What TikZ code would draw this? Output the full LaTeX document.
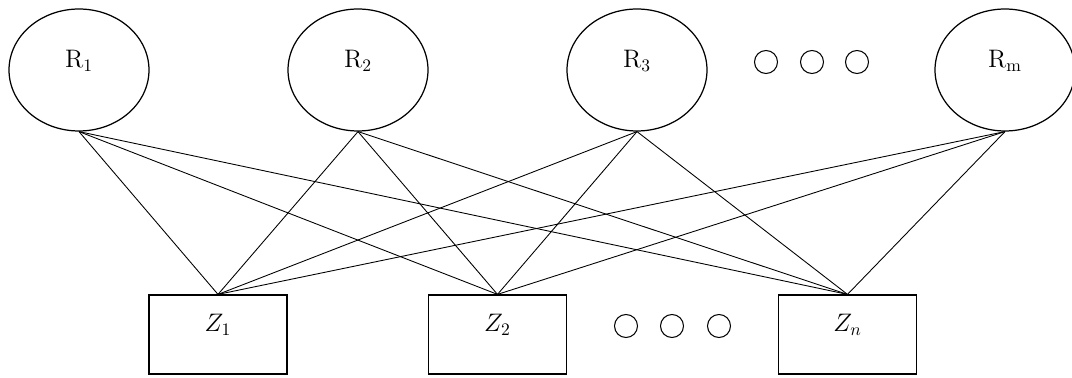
\documentclass[tikz,border=0pt]{standalone}
\usepackage{tikz}
\usetikzlibrary{shapes.geometric, positioning}
\tikzset{
  rnode/.style={draw, ellipse, line width=0.7pt, minimum width=2.8cm, minimum height=2.44cm, inner sep=0pt, text depth=0.45cm, font=\Large},
  znode/.style={draw, rectangle, line width=0.7pt, minimum width=2.76cm, minimum height=1.58cm, inner sep=0pt, text depth=0.45cm, font=\Large},
  dotnode/.style={draw, circle, line width=0.6pt, minimum width=0.46cm, minimum height=0.44cm, inner sep=0pt},
  link/.style={line width=0.5pt}
}
\begin{document}
\begin{tikzpicture}[x=0.02cm, y=-0.02cm]
  \useasboundingbox (0,0) rectangle (1072,378);

  % Top row
  \node[rnode] (r1) at (79, 70) {$\mathrm{R}_1$};
  \node[rnode] (r2) at (358, 70) {$\mathrm{R}_2$};
  \node[rnode] (r3) at (637, 70) {$\mathrm{R}_3$};
  \node[rnode] (rm) at (1005, 70) {$\mathrm{R}_\mathrm{m}$};
  \foreach \i/\x in {1/766, 2/812, 3/857}
    \node[dotnode] (rdot\i) at (\x, 62) {};

  % Bottom row
  \node[znode] (z1) at (218, 334.5) {$Z_1$};
  \node[znode] (z2) at (497.5, 334.5) {$Z_2$};
  \node[znode] (zn) at (847.5, 334.5) {$Z_n$};
  \foreach \i/\x in {1/626, 2/672, 3/719}
    \node[dotnode] (zdot\i) at (\x, 326) {};

  % Links
  \foreach \r in {r1, r2, r3, rm}
    \foreach \z in {z1, z2, zn}
      \draw[link] (\r.south) -- (\z.north);
\end{tikzpicture}
\end{document}
